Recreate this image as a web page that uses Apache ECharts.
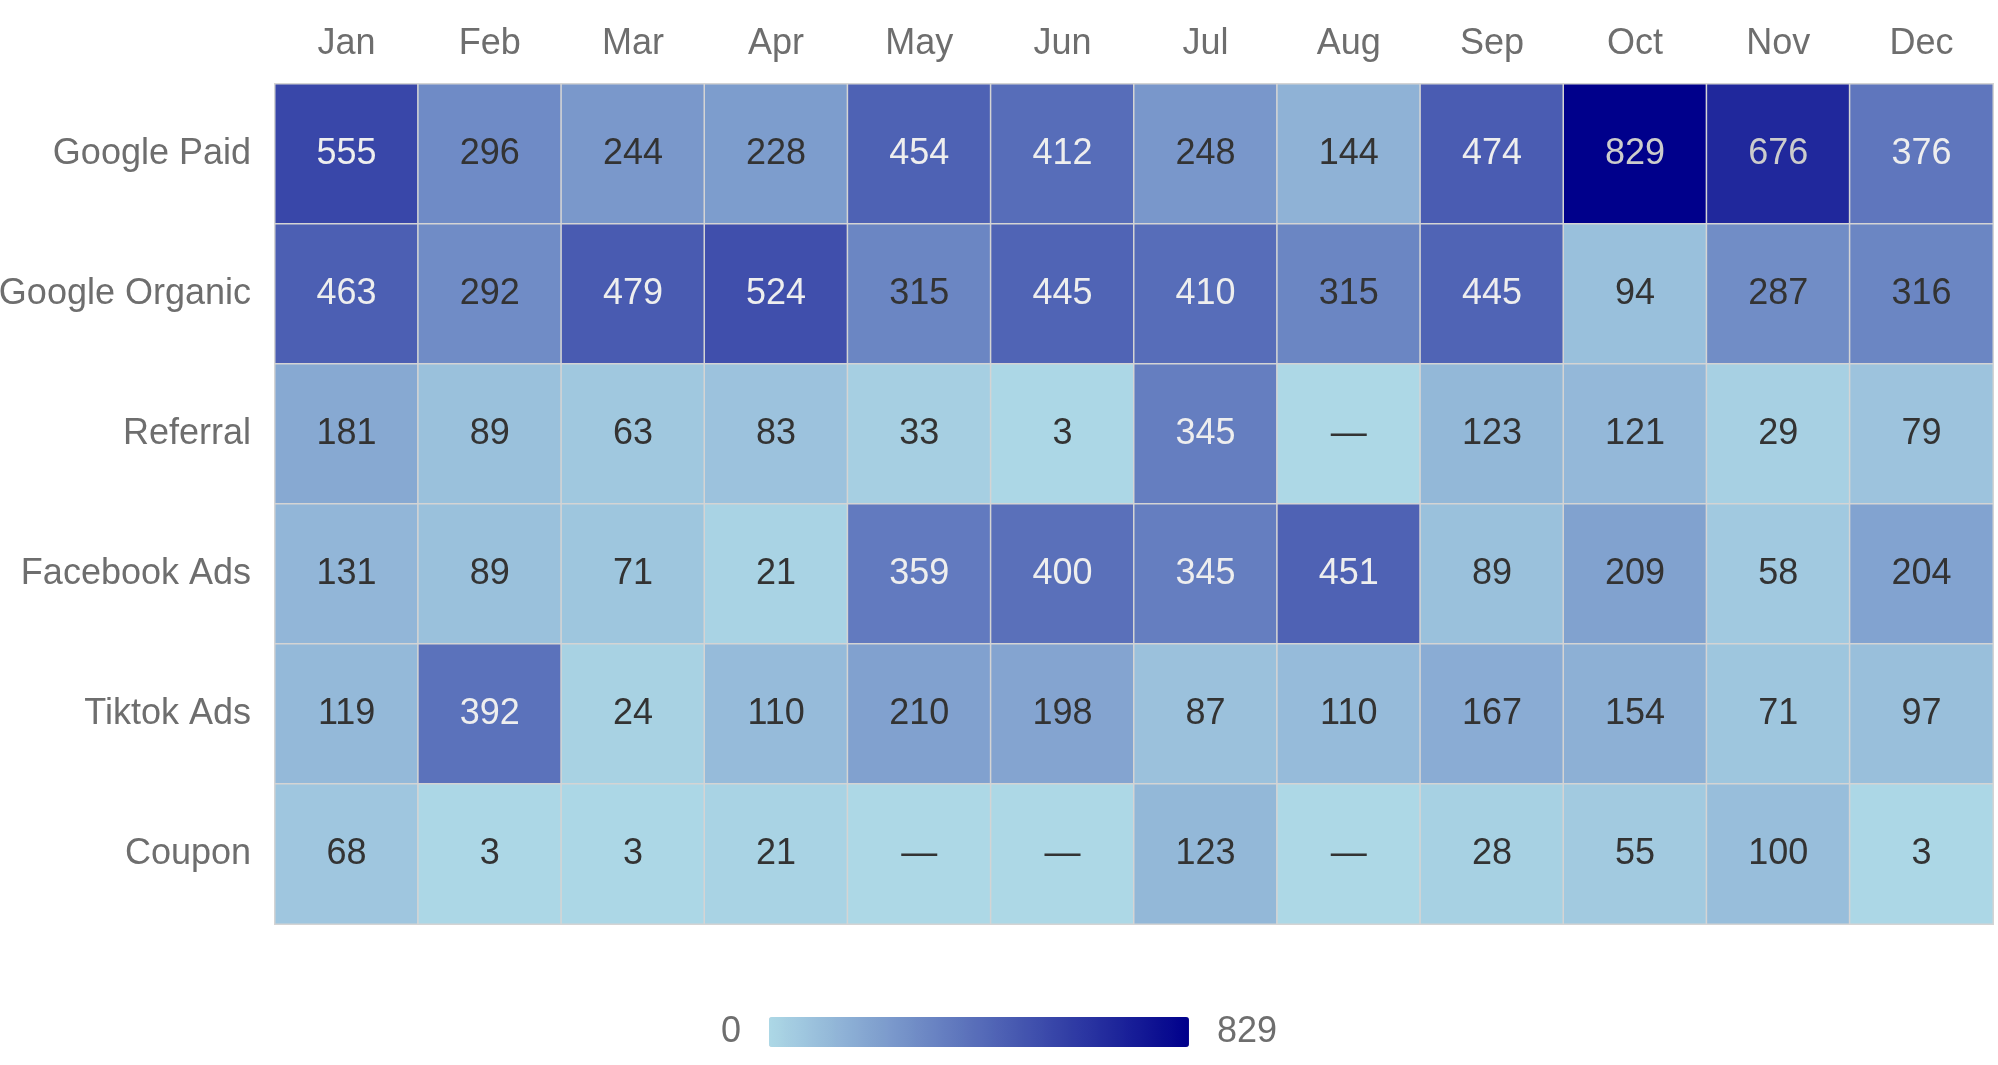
<!DOCTYPE html>
<html>
<head>
<meta charset="utf-8">
<script src="https://cdn.jsdelivr.net/npm/echarts@6/dist/echarts.min.js"></script>
<style>
html,body{margin:0;padding:0;background:#fff;}
#chart{width:1998px;height:1065px;}
</style>
</head>
<body>
<div id="chart"></div>
<script>
const months = ['Jan','Feb','Mar','Apr','May','Jun','Jul','Aug','Sep','Oct','Nov','Dec'];
const channels = ['Google Paid','Google Organic','Referral','Facebook Ads','Tiktok Ads','Coupon'];
const googlePaid    = [555,296,244,228,454,412,248,144,474,829,676,376];
const googleOrganic = [463,292,479,524,315,445,410,315,445,94,287,316];
const referral      = [181,89,63,83,33,3,345,null,123,121,29,79];
const facebookAds   = [131,89,71,21,359,400,345,451,89,209,58,204];
const tiktokAds     = [119,392,24,110,210,198,87,110,167,154,71,97];
const coupon        = [68,3,3,21,null,null,123,null,28,55,100,3];
const scaleMin = 0;
const scaleMax = 829;
const scaleLabels = ['829','0'];

const rows = [googlePaid, googleOrganic, referral, facebookAds, tiktokAds, coupon];
const data = [];
rows.forEach((row, y) => {
  row.forEach((v, x) => {
    data.push({ value: [x, y, v == null ? 0 : v], raw: v });
  });
});

const FONT = '"Liberation Sans", Arial, Helvetica, sans-serif';
const chart = echarts.init(document.getElementById('chart'));
chart.setOption({
  animation: false,
  textStyle: { fontFamily: FONT },
  grid: { left: 275, right: 5, top: 84, bottom: 141, outerBoundsMode: 'none', containLabel: false },
  xAxis: {
    type: 'category',
    data: months,
    position: 'top',
    axisLine: { show: false },
    axisTick: { show: false },
    splitArea: { show: false },
    axisLabel: { fontSize: 36, color: '#6e6e6e', margin: 22, fontFamily: FONT }
  },
  yAxis: {
    type: 'category',
    data: channels,
    inverse: true,
    axisLine: { show: false },
    axisTick: { show: false },
    axisLabel: { fontSize: 36, color: '#6e6e6e', margin: 24, fontFamily: FONT }
  },
  visualMap: {
    type: 'continuous',
    min: scaleMin,
    max: scaleMax,
    calculable: false,
    orient: 'horizontal',
    left: 'center',
    bottom: 0,
    itemWidth: 30,
    itemHeight: 420,
    text: scaleLabels,
    textGap: 28,
    textStyle: { fontSize: 36, color: '#6e6e6e', fontFamily: FONT },
    inRange: { color: ['#add8e6', '#00008b'] }
  },
  series: [{
    type: 'heatmap',
    data: data,
    itemStyle: { borderColor: '#d4d4d4', borderWidth: 1.5 },
    label: {
      show: true,
      fontSize: 36,
      fontFamily: FONT,
      formatter: function (p) {
        return p.data.raw == null ? '—' : String(p.data.raw);
      }
    }
  }]
});
</script>
</body>
</html>
